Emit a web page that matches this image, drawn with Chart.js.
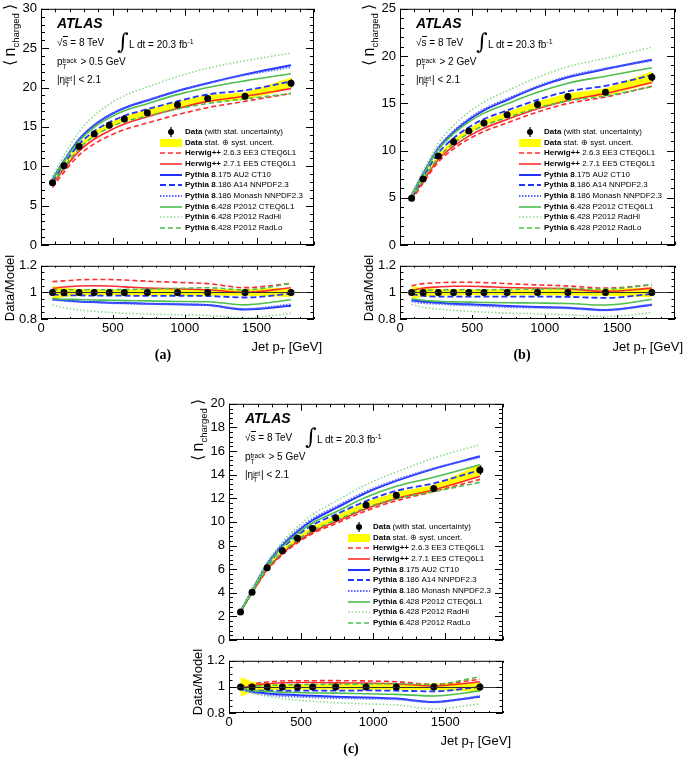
<!DOCTYPE html>
<html>
<head>
<meta charset="utf-8">
<script src="https://cdn.jsdelivr.net/npm/chart.js@4.4.1/dist/chart.umd.min.js"></script>
<style>
  html, body { margin:0; padding:0; background:#fff; }
  body { width:685px; height:760px; position:relative; overflow:hidden;
         font-family:"Liberation Sans", Arial, Helvetica, sans-serif; color:#000; }
  canvas { position:absolute; }
  .t { position:absolute; white-space:nowrap; line-height:1; }
  .stk { display:inline-block; vertical-align:-4px; font-size:6.5px; line-height:6.5px; margin:0 1px 0 0; }
  .stk span { display:block; }
  .leg { position:absolute; font-size:8px; line-height:1; }
  .leg .row { height:10.7px; display:flex; align-items:center; white-space:nowrap; }
  .leg svg { width:22px; height:10px; margin-right:3px; flex:none; }
</style>
</head>
<body>
<script>
// ======== DATA ========
// jet pT position of each bin [GeV]
const pT = [80, 160, 265, 370, 475, 580, 740, 950, 1160, 1420, 1740];

// (a) pT(track) > 0.5 GeV
const aData      = [7.9, 10.05, 12.5, 14.1, 15.2, 16.0, 16.8, 17.8, 18.6, 18.9, 20.55];
const aStat      = [0.05, 0.05, 0.05, 0.05, 0.06, 0.07, 0.08, 0.1, 0.14, 0.2, 0.5];
const aSyst      = [0.4, 0.35, 0.32, 0.32, 0.33, 0.36, 0.4, 0.44, 0.46, 0.48, 0.72];
const aHerwig263 = [7.31, 9.25, 11.42, 12.85, 13.86, 14.64, 15.5, 16.55, 17.45, 18.25, 19.25];
const aHerwig271 = [7.67, 9.66, 11.93, 13.43, 14.5, 15.36, 16.28, 17.33, 18.24, 18.9, 19.86];
const aAU2       = [8.34, 10.69, 13.41, 15.21, 16.47, 17.39, 18.36, 19.56, 20.55, 21.67, 22.83];
const aA14       = [8.0, 10.28, 12.79, 14.45, 15.57, 16.41, 17.25, 18.26, 19.12, 19.65, 20.76];
const aMonash    = [8.36, 10.73, 13.44, 15.24, 16.52, 17.45, 18.4, 19.56, 20.55, 21.58, 22.58];
const aP2012     = [8.27, 10.6, 13.2, 14.95, 16.15, 17.05, 17.95, 19.1, 20.0, 20.85, 21.75];
const aRadHi     = [8.73, 11.36, 14.4, 16.43, 17.88, 18.98, 20.07, 21.39, 22.46, 23.39, 24.38];
const aRadLo     = [7.75, 9.85, 12.25, 13.82, 14.9, 15.66, 16.39, 17.28, 17.97, 18.55, 19.24];

// (b) pT(track) > 2 GeV
const bData      = [4.94, 6.98, 9.43, 10.94, 12.06, 12.9, 13.78, 14.87, 15.71, 16.16, 17.75];
const bStat      = [0.03, 0.03, 0.04, 0.04, 0.05, 0.06, 0.07, 0.09, 0.12, 0.18, 0.45];
const bSyst      = [0.22, 0.24, 0.24, 0.25, 0.26, 0.28, 0.3, 0.33, 0.36, 0.4, 0.65];
const bHerwig263 = [4.7, 6.55, 8.79, 10.17, 11.21, 12.02, 12.93, 14.08, 14.98, 15.66, 16.81];
const bHerwig271 = [4.88, 6.76, 9.06, 10.46, 11.53, 12.36, 13.29, 14.41, 15.3, 16.05, 17.2];
const bAU2       = [5.25, 7.51, 10.23, 11.96, 13.25, 14.25, 15.35, 16.71, 17.75, 18.62, 19.61];
const bA14       = [5.0, 7.17, 9.74, 11.3, 12.46, 13.33, 14.24, 15.36, 16.26, 16.85, 17.97];
const bMonash    = [5.29, 7.59, 10.31, 12.05, 13.36, 14.37, 15.48, 16.8, 17.85, 18.68, 19.5];
const bP2012     = [5.19, 7.42, 10.1, 11.78, 13.01, 13.96, 14.95, 16.16, 17.13, 17.86, 18.76];
const bRadHi     = [5.43, 7.86, 10.78, 12.65, 14.06, 15.14, 16.31, 17.74, 18.88, 19.76, 20.93];
const bRadLo     = [4.89, 6.88, 9.26, 10.73, 11.82, 12.65, 13.48, 14.51, 15.25, 15.77, 16.75];

// (c) pT(track) > 5 GeV
const cData      = [2.38, 4.04, 6.12, 7.55, 8.61, 9.45, 10.32, 11.44, 12.26, 12.82, 14.39];
const cStat      = [0.02, 0.02, 0.03, 0.03, 0.04, 0.05, 0.06, 0.08, 0.1, 0.15, 0.4];
const cSyst      = [0.18, 0.16, 0.15, 0.16, 0.17, 0.19, 0.21, 0.24, 0.27, 0.3, 0.5];
const cHerwig263 = [2.39, 3.96, 5.9, 7.22, 8.22, 9.02, 9.85, 10.94, 11.79, 12.57, 13.6];
const cHerwig271 = [2.4, 4.01, 5.98, 7.32, 8.33, 9.14, 10.01, 11.12, 11.97, 12.73, 13.85];
const cAU2       = [2.42, 4.2, 6.44, 8.01, 9.19, 10.14, 11.16, 12.46, 13.47, 14.49, 15.56];
const cA14       = [2.39, 4.13, 6.3, 7.78, 8.87, 9.73, 10.63, 11.76, 12.63, 13.27, 14.39];
const cMonash    = [2.42, 4.22, 6.51, 8.12, 9.31, 10.27, 11.28, 12.57, 13.55, 14.54, 15.47];
const cP2012     = [2.4, 4.15, 6.34, 7.87, 9.0, 9.91, 10.84, 12.08, 13.01, 13.78, 14.84];
const cRadHi     = [2.42, 4.24, 6.59, 8.3, 9.59, 10.62, 11.75, 13.15, 14.22, 15.41, 16.54];
const cRadLo     = [2.39, 4.02, 6.05, 7.44, 8.47, 9.28, 10.12, 11.19, 11.96, 12.57, 13.35];

// axis ticks
const xTickLabels = [0, 500, 1000, 1500];
const xTicksMajor = 500, xTicksMinor = 100;
const ratioTicks = [0.8, 1, 1.2];

// ======== STYLES ========
const FONT = { family: "'Liberation Sans', Arial, Helvetica, sans-serif", size: 13 };
const YELLOW = '#ffff00';
const MODEL_STYLE = [
  { gen:'Herwig++', tune:' 2.6.3 EE3 CTEQ6L1',   color:'#ff2b2b', width:1.6, dash:[5,3] },
  { gen:'Herwig++', tune:' 2.7.1 EE5 CTEQ6L1',   color:'#ff2b2b', width:1.6, dash:[] },
  { gen:'Pythia 8', tune:'.175 AU2 CT10',        color:'#2233ff', width:2,   dash:[] },
  { gen:'Pythia 8', tune:'.186 A14 NNPDF2.3',    color:'#2233ff', width:1.8, dash:[6,3] },
  { gen:'Pythia 8', tune:'.186 Monash NNPDF2.3', color:'#5566ff', width:2,   dash:[1.5,1.5] },
  { gen:'Pythia 6', tune:'.428 P2012 CTEQ6L1',   color:'#4cbf4c', width:1.6, dash:[] },
  { gen:'Pythia 6', tune:'.428 P2012 RadHi',     color:'#8fdc8f', width:1.6, dash:[1.5,2] },
  { gen:'Pythia 6', tune:'.428 P2012 RadLo',     color:'#4cbf4c', width:1.6, dash:[5,3] }
];

const PANELS = [
  { tag:'a', cut:'0.5', L:41,  R:314, T:7,   B:245, rT:264, rB:319, yMax:30, yStep:5, yMinor:1,
    data:aData, stat:aStat, syst:aSyst,
    models:[aHerwig263, aHerwig271, aAU2, aA14, aMonash, aP2012, aRadHi, aRadLo] },
  { tag:'b', cut:'2',   L:400, R:675, T:7,   B:245, rT:264, rB:319, yMax:25, yStep:5, yMinor:1,
    data:bData, stat:bStat, syst:bSyst,
    models:[bHerwig263, bHerwig271, bAU2, bA14, bMonash, bP2012, bRadHi, bRadLo] },
  { tag:'c', cut:'5',   L:229, R:503, T:402, B:640, rT:659, rB:713, yMax:20, yStep:2, yMinor:0.4,
    data:cData, stat:cStat, syst:cSyst,
    models:[cHerwig263, cHerwig271, cAU2, cA14, cMonash, cP2012, cRadHi, cRadLo] }
];

// ======== helpers ========
const pts = ys => pT.map((x, i) => ({ x, y: ys[i] }));

function makeCanvas(left, top, w, h) {
  const c = document.createElement('canvas');
  c.width = w; c.height = h;
  c.style.left = left + 'px'; c.style.top = top + 'px';
  c.style.width = w + 'px'; c.style.height = h + 'px';
  document.body.appendChild(c);
  return c;
}

function put(html, css) {
  const d = document.createElement('div');
  d.className = 't';
  d.innerHTML = html;
  d.style.cssText += css;
  document.body.appendChild(d);
  return d;
}

// ROOT-like frame: box + inward ticks on all four sides, error bars, line at 1
function framePlugin(o) {
  return {
    id: 'frame',
    afterDatasetsDraw(chart) {
      const { ctx, chartArea: a, scales: { x, y } } = chart;
      ctx.save();
      if (o.unity) {
        const py = Math.round(y.getPixelForValue(1)) + 0.5;
        ctx.lineWidth = 1.2; ctx.strokeStyle = '#333';
        ctx.beginPath(); ctx.moveTo(a.left, py); ctx.lineTo(a.right, py); ctx.stroke();
      }
      ctx.strokeStyle = '#000'; ctx.lineWidth = 1.3;
      ctx.beginPath();
      o.errY.forEach((v, i) => {
        const px = Math.round(x.getPixelForValue(pT[i])) + 0.5;
        ctx.moveTo(px, y.getPixelForValue(v - o.errE[i]));
        ctx.lineTo(px, y.getPixelForValue(v + o.errE[i]));
      });
      ctx.stroke();
      ctx.restore();
    },
    afterDraw(chart) {
      const { ctx, chartArea: a, scales: { x, y } } = chart;
      ctx.save();
      ctx.strokeStyle = '#000'; ctx.lineWidth = 1;
      ctx.beginPath();
      const nx = Math.round((x.max - x.min) / xTicksMinor);
      const kx = Math.round(xTicksMajor / xTicksMinor);
      for (let k = 0; k <= nx; k++) {
        const px = Math.round(x.getPixelForValue(x.min + k * xTicksMinor)) + 0.5;
        const len = k % kx === 0 ? o.xLen : o.xLen / 2;
        ctx.moveTo(px, a.bottom); ctx.lineTo(px, a.bottom - len);
        ctx.moveTo(px, a.top); ctx.lineTo(px, a.top + len);
      }
      const ny = Math.round((y.max - y.min) / o.yMinor);
      const ky = Math.round(o.yMajor / o.yMinor);
      for (let k = 0; k <= ny; k++) {
        const py = Math.round(y.getPixelForValue(y.min + k * o.yMinor)) + 0.5;
        const len = k % ky === 0 ? o.yLen : o.yLen / 2;
        ctx.moveTo(a.left, py); ctx.lineTo(a.left + len, py);
        ctx.moveTo(a.right, py); ctx.lineTo(a.right - len, py);
      }
      ctx.stroke();
      ctx.strokeRect(a.left + 0.5, a.top + 0.5, a.right - a.left - 1, a.bottom - a.top - 1);
      ctx.restore();
    }
  };
}

function bandSets(upper, lower) {
  return [
    { data: pts(upper), borderWidth: 0, borderColor: 'rgba(0,0,0,0)', pointRadius: 0,
      backgroundColor: YELLOW, fill: '+1', order: 20 },
    { data: pts(lower), borderWidth: 0, borderColor: 'rgba(0,0,0,0)', pointRadius: 0,
      fill: false, order: 21 }
  ];
}

function modelSets(series) {
  return series.map((ys, j) => ({
    data: pts(ys), borderColor: MODEL_STYLE[j].color, borderWidth: MODEL_STYLE[j].width,
    borderDash: MODEL_STYLE[j].dash, pointRadius: 0, fill: false,
    cubicInterpolationMode: 'monotone', order: 10 - j
  }));
}

function dataSet(ys) {
  return { data: pts(ys), showLine: false, pointRadius: 3.5, pointBackgroundColor: '#000',
           pointBorderWidth: 0, order: 0 };
}

function baseOptions(xLabels, yOpts, xH) {
  return {
    responsive: false, devicePixelRatio: 1, animation: false, events: [],
    layout: { padding: { top: 10, right: 10, left: 0, bottom: 0 } },
    plugins: { legend: { display: false }, tooltip: { enabled: false } },
    scales: {
      x: { type: 'linear', min: 0, max: 1900,
           grid: { display: false, drawTicks: false }, border: { display: false },
           afterBuildTicks: s => { s.ticks = xTickLabels.map(v => ({ value: v })); },
           ticks: { display: xLabels, padding: 2, maxRotation: 0, autoSkip: false,
                    color: '#000', font: FONT, callback: v => String(v) },
           afterFit: s => { s.height = xH; } },
      y: Object.assign({ type: 'linear', grid: { display: false, drawTicks: false }, border: { display: false },
           afterFit: s => { s.width = 40; } }, yOpts)
    }
  };
}

// ======== PANELS ========
function renderPanel(p) {
  // main plot
  const mainCv = makeCanvas(p.L - 40, p.T - 10, p.R - p.L + 50, p.B - p.T + 22);
  new Chart(mainCv, {
    type: 'line',
    data: { datasets: [
      ...bandSets(p.data.map((v, i) => v + p.syst[i]), p.data.map((v, i) => v - p.syst[i])),
      ...modelSets(p.models),
      dataSet(p.data)
    ] },
    options: baseOptions(false, {
      min: 0, max: p.yMax,
      ticks: { stepSize: p.yStep, padding: 4, autoSkip: false, color: '#000', font: FONT }
    }, 12),
    plugins: [framePlugin({ errY: p.data, errE: p.stat, xLen: 7, yLen: 8, yMajor: p.yStep, yMinor: p.yMinor })]
  });

  // ratio plot: Data / Model
  const ratioCv = makeCanvas(p.L - 40, p.rT - 10, p.R - p.L + 50, p.rB - p.rT + 40);
  const rel = p.syst.map((s, i) => s / p.data[i]);
  new Chart(ratioCv, {
    type: 'line',
    data: { datasets: [
      ...bandSets(rel.map(r => 1 + r), rel.map(r => 1 - r)),
      ...modelSets(p.models.map(m => m.map((v, i) => p.data[i] / v))),
      dataSet(p.data.map(() => 1))
    ] },
    options: baseOptions(true, {
      min: ratioTicks[0], max: ratioTicks[2],
      afterBuildTicks: s => { s.ticks = ratioTicks.map(v => ({ value: v })); },
      ticks: { padding: 4, autoSkip: false, color: '#000', font: FONT, callback: v => String(v) }
    }, 30),
    plugins: [framePlugin({ unity: true, errY: p.data.map(() => 1), errE: p.stat.map((s, i) => s / p.data[i]),
                            xLen: 4, yLen: 7, yMajor: 0.2, yMinor: 0.05 })]
  });

  // texts inside the main frame
  const L = p.L, T = p.T;
  put('<b><i>ATLAS</i></b>', `left:${L + 16}px;top:${T + 9}px;font-size:14px;`);
  put('√<span style="border-top:1px solid #000">s</span> = 8 TeV', `left:${L + 16}px;top:${T + 31}px;font-size:10px;`);
  put('∫', `left:${L + 76}px;top:${T + 24}px;font-size:22px;font-family:'DejaVu Serif',serif;`);
  put('L dt = 20.3 fb<sup style="font-size:7px;vertical-align:4px">-1</sup>', `left:${L + 88}px;top:${T + 31}px;font-size:10px;`);
  put(`p<span class="stk"><span>track</span><span>T</span></span> &gt; ${p.cut} GeV`, `left:${L + 16}px;top:${T + 50}px;font-size:10px;`);
  put('|η<span class="stk"><span>jet</span><span>T</span></span>| &lt; 2.1', `left:${L + 16}px;top:${T + 68}px;font-size:10px;`);

  // legend
  const leg = document.createElement('div');
  leg.className = 'leg';
  leg.style.left = (L + 119) + 'px';
  leg.style.top = (T + 119.6) + 'px';
  let html = '';
  html += '<div class="row"><svg viewBox="0 0 22 10"><line x1="11" y1="0" x2="11" y2="10" stroke="#000" stroke-width="1.2"/><circle cx="11" cy="5" r="3" fill="#000"/></svg><b>Data</b>&nbsp;(with stat. uncertainty)</div>';
  html += `<div class="row"><svg viewBox="0 0 22 10"><rect x="0" y="1" width="22" height="8" fill="${YELLOW}"/></svg><b>Data</b>&nbsp;stat. ⊕ syst. uncert.</div>`;
  MODEL_STYLE.forEach(m => {
    html += `<div class="row"><svg viewBox="0 0 22 10"><line x1="0" y1="5" x2="22" y2="5" stroke="${m.color}" stroke-width="${m.width}" stroke-dasharray="${m.dash.join(',')}"/></svg><b>${m.gen}</b>${m.tune.replace(/ /g, '&nbsp;')}</div>`;
  });
  leg.innerHTML = html;
  document.body.appendChild(leg);

  // axis titles
  put('<span style="font-size:16px">⟨</span>&thinsp;<span style="font-size:16px">n</span><span style="font-size:9.5px;vertical-align:-4px">charged</span>&thinsp;<span style="font-size:16px">⟩</span>',
      `left:${L - 31 - 50}px;top:${T + 47 - 10}px;width:100px;height:20px;line-height:20px;text-align:right;transform:rotate(-90deg);`);
  put('Data/Model',
      `left:${L - 31 - 50}px;top:${(p.rT + p.rB) / 2 - 4 - 8}px;width:100px;height:16px;line-height:16px;text-align:center;font-size:13px;transform:rotate(-90deg);`);
  put('Jet p<span style="font-size:9px;vertical-align:-3px">T</span> [GeV]',
      `left:${p.R + 8 - 120}px;top:${p.rB + 21}px;width:120px;text-align:right;font-size:13px;`);
  put(`(${p.tag})`,
      `left:${L + 102}px;top:${p.rB + 29}px;width:40px;text-align:center;font-size:14px;font-weight:bold;font-family:'Liberation Serif','Times New Roman',serif;`);
}

PANELS.forEach(renderPanel);
</script>
</body>
</html>
